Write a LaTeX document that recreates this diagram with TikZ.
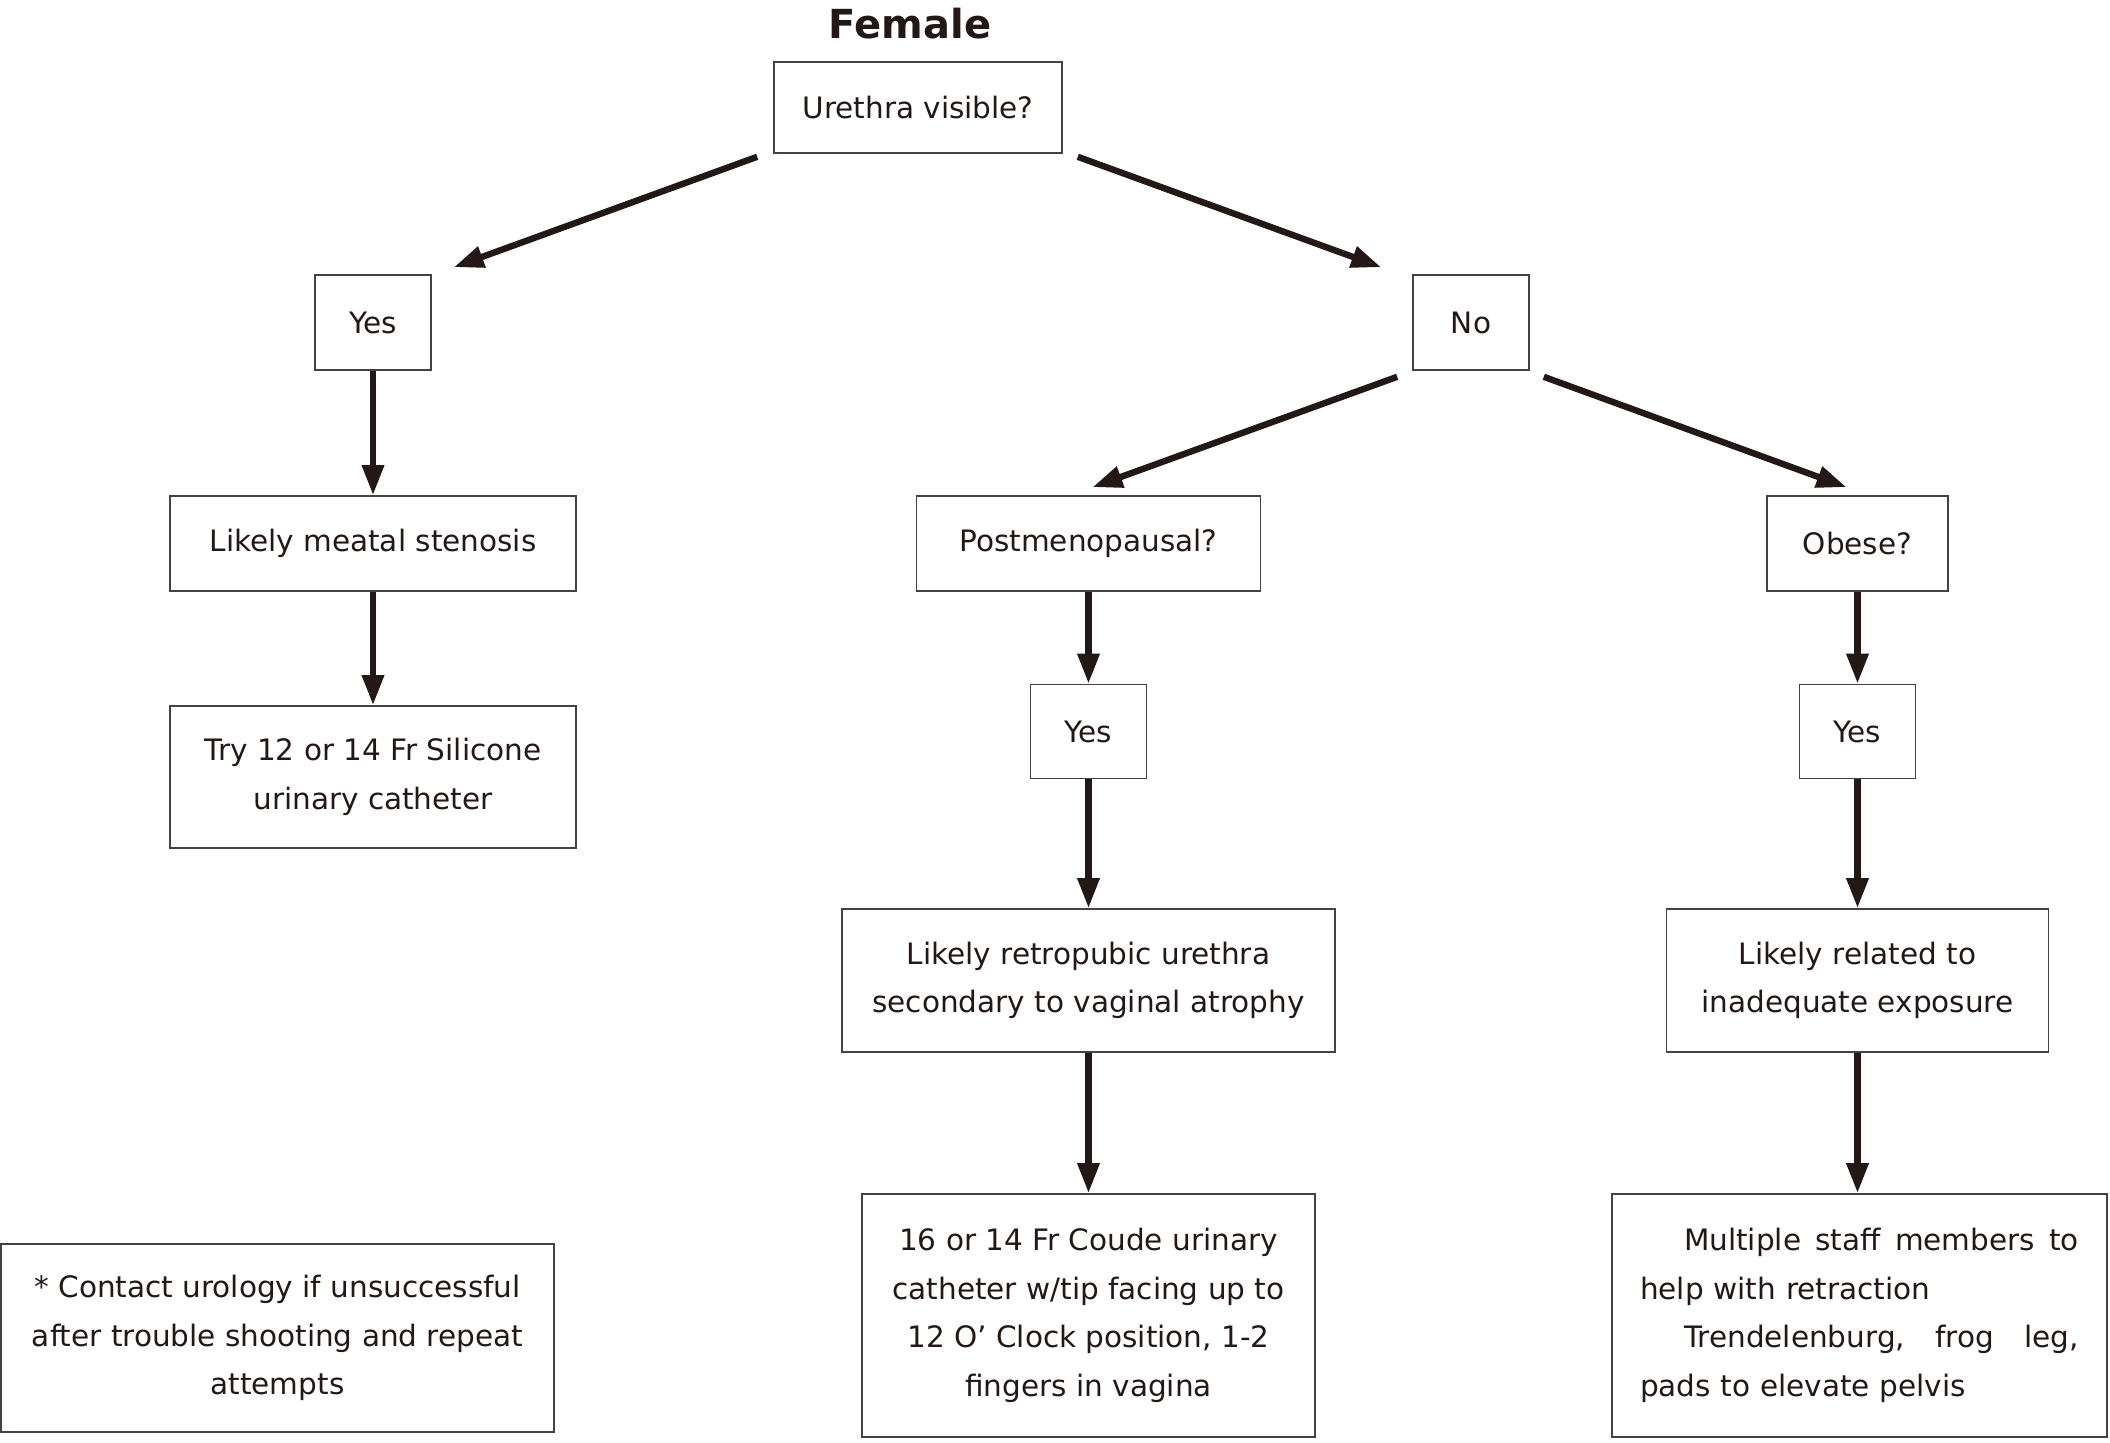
\documentclass[tikz,border=0pt]{standalone}
\usepackage{fontspec}
\setmainfont{DejaVu Sans}
\usetikzlibrary{arrows.meta,calc}
\definecolor{ink}{RGB}{35,24,21}
\definecolor{boxline}{RGB}{70,66,66}
\newcommand{\bodyfnt}{\fontsize{14.75pt}{24.25pt}\selectfont}
\tikzset{
  box/.style={draw=boxline, line width=0.8pt, fill=white, align=center,
    inner sep=0pt, font=\bodyfnt, text=ink},
  arr/.style={draw=ink, line width=3.2pt, -{Triangle[length=15pt,width=10.5pt]}},
}
\begin{document}
\begin{tikzpicture}[x=0.5pt,y=-0.5pt]
\useasboundingbox (0,0) rectangle (2110,1442);
\node[anchor=base, font=\bfseries\fontsize{20pt}{24pt}\selectfont, text=ink, inner sep=0pt] (title) at (910,38) {Female};

\node[box, minimum width=144pt, minimum height=45.5pt] (ure) at (918,107.5) {Urethra visible?};
\node[box, minimum width=58pt, minimum height=47.5pt] (yes1) at (373,322.5) {Yes};
\node[box, minimum width=58pt, minimum height=47.5pt] (no) at (1471,322.5) {No};
\node[box, minimum width=203pt, minimum height=47.5pt] (meatal) at (373,543.5) {Likely meatal stenosis};
\node[box, minimum width=172pt, minimum height=47.5pt] (post) at (1088.5,543.5) {Postmenopausal?};
\node[box, minimum width=90.5pt, minimum height=47.5pt] (obese) at (1857.5,543.5) {Obese?};
\node[box, minimum width=203pt, minimum height=71pt] (try) at (373,777) {Try 12 or 14 Fr Silicone\\urinary catheter};
\node[box, minimum width=58pt, minimum height=47pt] (yes2) at (1088.5,731.5) {Yes};
\node[box, minimum width=58pt, minimum height=47pt] (yes3) at (1857.5,731.5) {Yes};
\node[box, minimum width=246.5pt, minimum height=71.5pt] (retro) at (1088.5,980.5) {Likely retropubic urethra\\secondary to vaginal atrophy};
\node[box, minimum width=191pt, minimum height=71.5pt] (related) at (1857.5,980.5) {Likely related to\\inadequate exposure};
\node[box, minimum width=226.5pt, minimum height=121.5pt] (coude) at (1088.5,1315.5) {16 or 14 Fr Coude urinary\\catheter w/tip facing up to\\12 O’ Clock position, 1-2\\fingers in vagina};
\node[box, minimum width=247.5pt, minimum height=121.5pt, align=left, text width=219.5pt] (multi) at (1859.5,1315.5) {\hspace*{22pt}\hbox to 197.5pt{Multiple\hfill staff\hfill members\hfill to}\\help with retraction\\\hspace*{22pt}\hbox to 197.5pt{Trendelenburg,\hfill frog\hfill leg,}\\pads to elevate pelvis};
\node[box, minimum width=276.5pt, minimum height=94pt] (contact) at (277.5,1338) {* Contact urology if unsuccessful\\after trouble shooting and repeat\\attempts};

% diagonal connectors
\draw[arr] ($(ure.south west)+(-16,3)$) -- ($(yes1.north east)+(22,-7)$);
\draw[arr] ($(ure.south east)+(15,3)$) -- ($(no.north west)+(-31,-7)$);
\draw[arr] ($(no.south west)+(-15,6)$) -- ($(post.north)+(4,-8)$);
\draw[arr] ($(no.south east)+(14,6)$) -- ($(obese.north)+(-11,-8)$);

% vertical connectors
\draw[arr] (yes1.south) -- (meatal.north);
\draw[arr] (meatal.south) -- (try.north);
\draw[arr] (post.south) -- (yes2.north);
\draw[arr] (yes2.south) -- (retro.north);
\draw[arr] (retro.south) -- (coude.north);
\draw[arr] (obese.south) -- (yes3.north);
\draw[arr] (yes3.south) -- (related.north);
\draw[arr] (related.south) -- (related.south |- multi.north);
\end{tikzpicture}
\end{document}
